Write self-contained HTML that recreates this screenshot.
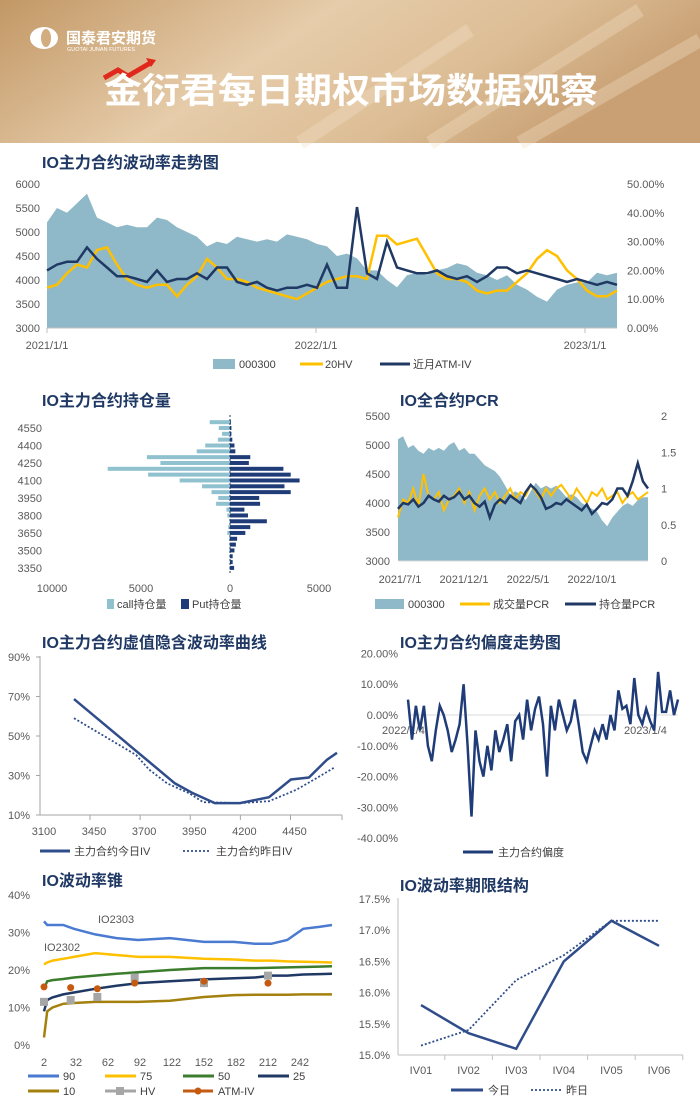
<!DOCTYPE html>
<html><head><meta charset="utf-8"><style>
html,body{margin:0;padding:0;background:#fff;}
svg{display:block;font-family:"Liberation Sans","Noto Sans CJK SC",sans-serif;}
.t{font-size:16px;font-weight:bold;fill:#1f3864;}
.ax{font-size:11px;fill:#595959;}
.lg{font-size:11px;fill:#404040;}
</style></head><body>
<svg id="pg" width="700" height="1102" viewBox="0 0 700 1102" xmlns="http://www.w3.org/2000/svg">
<defs>
<linearGradient id="hg" x1="0" y1="0" x2="1" y2="0.3">
<stop offset="0" stop-color="#c29765"/><stop offset="0.45" stop-color="#e6ccaa"/><stop offset="0.75" stop-color="#dcbd95"/><stop offset="1" stop-color="#c9a074"/>
</linearGradient>
</defs>
<g>
<rect x="0" y="0" width="700" height="143" fill="url(#hg)"/>
<path d="M430 143 L640 10 M520 143 L700 40 M300 143 L470 30" stroke="#f3e2c8" stroke-width="14" opacity="0.35"/>
<g>
<ellipse cx="44" cy="38" rx="14" ry="11" fill="#fff"/>
<ellipse cx="46" cy="38" rx="5" ry="9" fill="#d1ad80"/>
<text x="66" y="43" font-size="15" font-weight="bold" fill="#fff">国泰君安期货</text>
<text x="67" y="51" font-size="5.5" fill="#fff">GUOTAI JUNAN FUTURES</text>
</g>
<path d="M104 78 L118 70 L128 76 L152 62" stroke="#e0281c" stroke-width="5" fill="none"/>
<path d="M146 58 L156 60 L151 67 Z" fill="#e0281c"/>
<text x="104" y="103" font-size="35" font-weight="bold" fill="#fff" textLength="494" lengthAdjust="spacingAndGlyphs">金衍君每日期权市场数据观察</text>
</g>
<text class="t" x="42" y="168">IO主力合约波动率走势图</text>
<text class="t" x="42" y="406">IO主力合约持仓量</text>
<text class="t" x="400" y="406">IO全合约PCR</text>
<text class="t" x="42" y="648">IO主力合约虚值隐含波动率曲线</text>
<text class="t" x="400" y="648">IO主力合约偏度走势图</text>
<text class="t" x="42" y="886">IO波动率锥</text>
<text class="t" x="400" y="891">IO波动率期限结构</text>
<g id="c1"></g>
<g id="c2"></g>
<g id="c3"></g>
<g id="c4"></g>
<g id="c5"></g>
<g id="c6"></g>
<g id="c7"></g>
</svg>
<script>
// ---- chart 1 data ----
const c1Index = [5200,5500,5400,5600,5800,5300,5200,5100,5150,5100,5100,5300,5250,5100,5000,4900,4700,4800,4750,4900,4850,4800,4850,4800,4950,4900,4850,4750,4700,4500,4550,4450,4200,4200,4000,3850,4100,4150,4100,4200,4250,4350,4300,4150,4100,4000,4100,3900,3800,3650,3550,3800,3900,3950,3950,4150,4100,4150];
const c1HV = [14,15,19,22,21,27,28,22,17,15,14,15,15,11,15,18,24,21,17,17,16,14,13,12,11,10,12,14,16,17,18,18,17,32,32,29,30,31,25,19,17,17,16,13,12,13,13,16,19,24,27,25,20,17,13,11,11,13];
const c1IV = [20,22,23,23,28,24,21,18,18,17,16,20,16,17,17,19,17,21,21,16,15,16,14,13,14,14,15,14,22,14,14,42,19,17,30,21,20,19,19,20,18,17,18,16,18,21,21,19,20,19,18,17,16,17,16,15,16,15];
const c1LeftTicks = [3000,3500,4000,4500,5000,5500,6000];
const c1RightTicks = ["0.00%","10.00%","20.00%","30.00%","40.00%","50.00%"];
const c1XLabels = ["2021/1/1","2022/1/1","2023/1/1"];
// ---- chart 2 data ----
const c2Strikes = [4600,4550,4500,4450,4400,4350,4300,4250,4200,4150,4100,4050,4000,3950,3900,3850,3800,3750,3700,3650,3600,3550,3500,3450,3400,3350];
const c2Call = [1140,630,450,680,1390,1870,4670,3910,6870,4600,2830,1570,1040,660,780,200,150,30,100,150,50,30,40,30,20,30];
const c2Put = [50,80,80,130,250,300,1140,1060,3000,3410,3910,3060,3410,1640,1690,810,1010,2070,1140,860,400,330,250,150,150,230];
const c2YLabels = [4550,4400,4250,4100,3950,3800,3650,3500,3350];
const c2XLabels = ["10000","5000","0","5000"];
// ---- chart 3 data ----
const c3Index = [5100,5150,4950,5000,4900,4850,4950,4900,4950,4900,5000,5050,4900,4950,4850,4850,4750,4650,4600,4550,4450,4300,4150,4200,4150,4050,4200,4350,4250,4300,4250,4300,4200,4100,4150,4100,4000,3950,3900,3850,3700,3600,3750,3850,3950,4000,3950,4050,4100,4100];
const c3VolPCR = [0.6,0.85,0.8,1.0,0.75,1.2,0.9,0.85,0.95,0.7,0.85,0.9,1.0,0.8,0.95,0.7,0.9,1.0,0.85,0.95,0.8,0.9,1.0,0.85,0.95,0.9,1.05,0.95,0.85,1.0,0.9,1.0,1.05,0.95,0.85,1.0,0.9,0.8,0.95,0.9,1.0,0.85,0.9,0.95,0.8,0.9,0.95,0.85,0.9,0.95];
const c3OIPCR = [0.72,0.8,0.78,0.85,0.75,0.8,0.9,0.85,0.82,0.9,0.85,0.88,0.95,0.85,0.9,0.8,0.75,0.82,0.6,0.78,0.85,0.8,0.9,0.85,0.8,0.95,1.05,0.98,0.88,0.72,0.75,0.8,0.78,0.85,0.8,0.75,0.7,0.78,0.65,0.72,0.8,0.78,0.85,1.0,1.0,0.9,1.1,1.35,1.1,1.0];
const c3LeftTicks = [3000,3500,4000,4500,5000,5500];
const c3RightTicks = ["0","0.5","1","1.5","2"];
const c3XLabels = ["2021/7/1","2021/12/1","2022/5/1","2022/10/1"];
// ---- chart 4 data ----
const c4TodayK = [3370,3874,3964,4073,4198,4343,4452,4542,4632,4682];
const c4TodayIV = [68.7,26,21,16,16,19,28,29,38,41.5];
const c4YestK = [3370,3680,3745,3835,3945,4015,4198,4343,4478,4568,4668];
const c4YestIV = [59,40.4,33,26,21,16.5,16,17,22.7,28,34];
const c4YTicks = [10,30,50,70,90];
const c4XLabels = [3450,3700,3950,4200,4450];
// ---- chart 5 data ----
const c5Skew = [5,-8,3,-5,3,-10,-15,-5,3,0,-5,-12,-8,-3,10,-10,-33,-5,-15,-20,-10,-18,-5,-12,-8,-3,-15,-2,0,-8,5,-5,2,6,-3,-20,3,-5,5,0,-5,-2,5,-3,-12,-15,-10,-5,-8,-3,-8,0,-5,8,2,3,-3,12,0,-3,2,-2,-5,14,1,1,8,0,5];
const c5YTicks = [20,10,0,-10,-20,-30,-40];
// ---- chart 6 data ----
const c6Days = [2,5,10,20,30,50,70,90,120,152,180,200,215,230,245,260,272];
const c6P90 = [33,32,32,32,31,29.5,28.5,28,28.5,27.5,27.5,27,27,28,31,31.5,32];
const c6P75 = [21.5,22,22.5,23,23.5,24.5,24,23.5,23.5,23,22.8,22.5,22.5,22.3,22.2,22.1,22];
const c6P50 = [15,17,17.3,17.6,18,18.5,19,19.4,20,20.5,20.5,20.5,20.6,20.7,20.8,20.9,21];
const c6P25 = [9,12,12.7,13.5,14,15,15.8,16.5,17,17.5,17.8,18,18.5,18.5,18.8,18.9,19];
const c6P10 = [2,9,10,11,11.2,11.5,11.5,11.5,11.8,12.8,13.3,13.4,13.4,13.4,13.5,13.5,13.5];
const c6MarkDays = [2,27,52,87,152,212];
const c6HV = [11.5,12,12.8,18,16.5,18.5];
const c6ATM = [15.5,15.3,15,16.5,17,16.5];
const c6YTicks = [0,10,20,30,40];
const c6XLabels = [2,32,62,92,122,152,182,212,242];
// ---- chart 7 data ----
const c7Cats = ["IV01","IV02","IV03","IV04","IV05","IV06"];
const c7Today = [15.8,15.35,15.1,16.5,17.15,16.75];
const c7Yest = [15.15,15.4,16.2,16.6,17.15,17.15];
const c7YTicks = [15.0,15.5,16.0,16.5,17.0,17.5];

const NS='http://www.w3.org/2000/svg';
function mk(tag,attrs,parent){const e=document.createElementNS(NS,tag);for(const k in attrs)e.setAttribute(k,attrs[k]);parent.appendChild(e);return e;}
function txt(parent,x,y,s,cls,anchor){const t=mk('text',{x:x,y:y,'class':cls,'text-anchor':anchor||'start'},parent);t.textContent=s;return t;}
function pathOf(pts){return pts.map((p,i)=>(i?'L':'M')+p[0].toFixed(1)+' '+p[1].toFixed(1)).join(' ');}

// ===== chart 1 =====
(function(){
const g=document.getElementById('c1');
const x0=47,x1=617;
const yL=v=>328-(v-3000)*0.048, yR=p=>328-p*2.88;
const xi=(i,n)=>x0+i*(x1-x0)/(n-1);
const ap=c1Index.map((v,i)=>[xi(i,c1Index.length),yL(v)]);
const area=mk('path',{d:pathOf(ap)+` L${x1} 328 L${x0} 328 Z`,fill:'#8fb9c8'},g);


const hv=mk('path',{d:pathOf(c1HV.map((v,i)=>[xi(i,c1HV.length),yR(v)])),fill:'none',stroke:'#ffc000','stroke-width':2.5},g);


const iv=mk('path',{d:pathOf(c1IV.map((v,i)=>[xi(i,c1IV.length),yR(v)])),fill:'none',stroke:'#1f3864','stroke-width':2.5},g);


mk('line',{x1:x0,y1:328,x2:x1,y2:328,stroke:'#bfbfbf'},g);
c1LeftTicks.forEach(v=>txt(g,40,yL(v)+4,String(v),'ax','end'));
c1RightTicks.forEach((s,i)=>txt(g,627,yR(i*10)+4,s,'ax','start'));
c1XLabels.forEach((s,i)=>{const x=x0+i*269;mk('line',{x1:x,y1:328,x2:x,y2:333,stroke:'#bfbfbf'},g);txt(g,x,349,s,'ax','middle');});
mk('rect',{x:213,y:359,width:22,height:10,fill:'#8fb9c8'},g);txt(g,239,368,'000300','lg');
mk('line',{x1:300,y1:364,x2:323,y2:364,stroke:'#ffc000','stroke-width':3},g);txt(g,325,368,'20HV','lg');
mk('line',{x1:380,y1:364,x2:410,y2:364,stroke:'#1f3864','stroke-width':3},g);txt(g,413,368,'近月ATM-IV','lg');
})();

// ===== chart 2 =====
(function(){
const g=document.getElementById('c2');
const cx=230,s=89/5000;
const yS=k=>428+(4550-k)/50*5.83;
c2Strikes.forEach((k,i)=>{
 const y=yS(k);
 const b1=mk('rect',{x:cx-c2Call[i]*s,y:y-2,width:c2Call[i]*s,height:4,fill:'#8fc1cf'},g);
 
 
 const b2=mk('rect',{x:cx,y:y-2,width:c2Put[i]*s,height:4,fill:'#1f3c78'},g);
 
 
});
mk('line',{x1:cx,y1:415,x2:cx,y2:574,stroke:'#1f3864','stroke-dasharray':'2 2'},g);
c2YLabels.forEach(k=>txt(g,42,yS(k)+4,String(k),'ax','end'));
c2XLabels.forEach((s2,i)=>txt(g,52+i*89,592,s2,'ax','middle'));
mk('rect',{x:107,y:599,width:7,height:10,fill:'#8fc1cf'},g);txt(g,117,608,'call持仓量','lg');
mk('rect',{x:181,y:599,width:8,height:10,fill:'#1f3c78'},g);txt(g,192,608,'Put持仓量','lg');
})();

// ===== chart 3 =====
(function(){
const g=document.getElementById('c3');
const x0=398,x1=648;
const yL=v=>561-(v-3000)*0.058, yR=r=>561-r*72.5;
const xi=(i,n)=>x0+i*(x1-x0)/(n-1);
const a=mk('path',{d:pathOf(c3Index.map((v,i)=>[xi(i,c3Index.length),yL(v)]))+` L${x1} 561 L${x0} 561 Z`,fill:'#8fb9c8'},g);


const v=mk('path',{d:pathOf(c3VolPCR.map((r,i)=>[xi(i,c3VolPCR.length),yR(r)])),fill:'none',stroke:'#ffc000','stroke-width':2},g);


const o=mk('path',{d:pathOf(c3OIPCR.map((r,i)=>[xi(i,c3OIPCR.length),yR(r)])),fill:'none',stroke:'#1f3864','stroke-width':2.5},g);


mk('line',{x1:x0,y1:561,x2:x1,y2:561,stroke:'#d9d9d9'},g);
c3LeftTicks.forEach(t=>txt(g,390,yL(t)+4,String(t),'ax','end'));
c3RightTicks.forEach((s,i)=>txt(g,661,yR(i*0.5)+4,s,'ax','start'));
c3XLabels.forEach((s,i)=>txt(g,400+i*64,583,s,'ax','middle'));
mk('rect',{x:375,y:599,width:29,height:10,fill:'#8fb9c8'},g);txt(g,408,608,'000300','lg');
mk('line',{x1:460,y1:604,x2:490,y2:604,stroke:'#ffc000','stroke-width':3},g);txt(g,493,608,'成交量PCR','lg');
mk('line',{x1:565,y1:604,x2:596,y2:604,stroke:'#1f3864','stroke-width':3},g);txt(g,599,608,'持仓量PCR','lg');
})();

// ===== chart 4 =====
(function(){
const g=document.getElementById('c4');
const xK=k=>90+(k-3450)*0.2005, yV=v=>657+(90-v)*1.975;
mk('line',{x1:40,y1:656,x2:40,y2:815,stroke:'#a6a6a6'},g);
mk('line',{x1:40,y1:815,x2:342,y2:815,stroke:'#a6a6a6'},g);
c4YTicks.forEach(t=>{txt(g,30,yV(t)+4,t+'%','ax','end');mk('line',{x1:36,y1:yV(t),x2:40,y2:yV(t),stroke:'#a6a6a6'},g);});
txt(g,44,835,'3100','ax','middle');
c4XLabels.forEach(k=>{mk('line',{x1:xK(k),y1:815,x2:xK(k),y2:820,stroke:'#a6a6a6'},g);txt(g,xK(k)+4,835,String(k),'ax','middle');});
mk('line',{x1:342,y1:815,x2:342,y2:820,stroke:'#a6a6a6'},g);
const yd=mk('path',{d:pathOf(c4YestK.map((k,i)=>[xK(k),yV(c4YestIV[i])])),fill:'none',stroke:'#2f4d8a','stroke-width':1.8,'stroke-dasharray':'2 2'},g);


const td=mk('path',{d:pathOf(c4TodayK.map((k,i)=>[xK(k),yV(c4TodayIV[i])])),fill:'none',stroke:'#2f4d8a','stroke-width':2.5},g);


mk('line',{x1:40,y1:851,x2:70,y2:851,stroke:'#2f4d8a','stroke-width':3},g);txt(g,74,855,'主力合约今日IV','lg');
mk('line',{x1:183,y1:851,x2:211,y2:851,stroke:'#2f4d8a','stroke-width':1.8,'stroke-dasharray':'2 2'},g);txt(g,216,855,'主力合约昨日IV','lg');
})();

// ===== chart 5 =====
(function(){
const g=document.getElementById('c5');
const x0=408,x1=678,yP=p=>715-p*3.08;
mk('line',{x1:x0,y1:715,x2:x1,y2:715,stroke:'#d9d9d9'},g);
c5YTicks.forEach(t=>txt(g,398,yP(t)+4,t.toFixed(2)+'%','ax','end'));
txt(g,382,734,'2022/1/4','ax','start');
txt(g,624,734,'2023/1/4','ax','start');
const l=mk('path',{d:pathOf(c5Skew.map((v,i)=>[x0+i*(x1-x0)/(c5Skew.length-1),yP(v)])),fill:'none',stroke:'#1f3c78','stroke-width':2.5},g);


mk('line',{x1:463,y1:852,x2:493,y2:852,stroke:'#1f3c78','stroke-width':3},g);txt(g,498,856,'主力合约偏度','lg');
})();

// ===== chart 6 =====
(function(){
const g=document.getElementById('c6');
const xD=d=>44+(d-2)*32/30, yV=v=>1045-v*3.75;
c6YTicks.forEach(t=>txt(g,30,yV(t)+4,t+'%','ax','end'));
c6XLabels.forEach(d=>txt(g,xD(d),1066,String(d),'ax','middle'));
const series=[[c6P90,'#4a7bd0','cone-p90-line'],[c6P75,'#ffc000','cone-p75-line'],[c6P50,'#3b7d2c','cone-p50-line'],[c6P25,'#1f3864','cone-p25-line'],[c6P10,'#a4800e','cone-p10-line']];
series.forEach(s=>{
 const p=mk('path',{d:pathOf(s[0].map((v,i)=>[xD(c6Days[i]),yV(v)])),fill:'none',stroke:s[1],'stroke-width':2.5},g);
 
 
});
c6MarkDays.forEach((d,i)=>{
 const r=mk('rect',{x:xD(d)-4,y:yV(c6HV[i])-4,width:8,height:8,fill:'#a6a6a6'},g);
 
 
 const c=mk('circle',{cx:xD(d),cy:yV(c6ATM[i]),r:3.5,fill:'#c55a11'},g);
 
 
});
txt(g,98,923,'IO2303','ax','start').setAttribute('font-size','13');
txt(g,44,951,'IO2302','ax','start').setAttribute('font-size','13');
const lg=[[28,1076,'#4a7bd0','90'],[105,1076,'#ffc000','75'],[183,1076,'#3b7d2c','50'],[258,1076,'#1f3864','25'],[28,1091,'#a4800e','10']];
lg.forEach(e=>{mk('line',{x1:e[0],y1:e[1],x2:e[0]+31,y2:e[1],stroke:e[2],'stroke-width':3},g);const t=txt(g,e[0]+35,e[1]+4,e[3],'lg');t.setAttribute('font-size','9');});
mk('line',{x1:105,y1:1091,x2:136,y2:1091,stroke:'#a6a6a6','stroke-width':3},g);mk('rect',{x:116,y:1087,width:8,height:8,fill:'#a6a6a6'},g);txt(g,140,1095,'HV','lg').setAttribute('font-size','9');
mk('line',{x1:183,y1:1091,x2:213,y2:1091,stroke:'#c55a11','stroke-width':3},g);mk('circle',{cx:198,cy:1091,r:3.5,fill:'#c55a11'},g);txt(g,218,1095,'ATM-IV','lg').setAttribute('font-size','9');
})();

// ===== chart 7 =====
(function(){
const g=document.getElementById('c7');
const xC=i=>421+i*47.6, yV=v=>1055-(v-15)*62.4;
mk('line',{x1:398,y1:898,x2:398,y2:1055,stroke:'#bfbfbf'},g);
mk('line',{x1:398,y1:1055,x2:683,y2:1055,stroke:'#bfbfbf'},g);
c7YTicks.forEach(t=>txt(g,390,yV(t)+4,t.toFixed(1)+'%','ax','end'));
c7Cats.forEach((c,i)=>{mk('line',{x1:xC(i)+23.8,y1:1055,x2:xC(i)+23.8,y2:1060,stroke:'#bfbfbf'},g);txt(g,xC(i),1074,c,'ax','middle');});
const y=mk('path',{d:pathOf(c7Yest.map((v,i)=>[xC(i),yV(v)])),fill:'none',stroke:'#2f4d8a','stroke-width':1.8,'stroke-dasharray':'2 2'},g);


const t=mk('path',{d:pathOf(c7Today.map((v,i)=>[xC(i),yV(v)])),fill:'none',stroke:'#2f4d8a','stroke-width':2.5},g);


mk('line',{x1:451,y1:1090,x2:483,y2:1090,stroke:'#2f4d8a','stroke-width':3},g);txt(g,488,1094,'今日','lg');
mk('line',{x1:531,y1:1090,x2:561,y2:1090,stroke:'#2f4d8a','stroke-width':1.8,'stroke-dasharray':'2 2'},g);txt(g,566,1094,'昨日','lg');
})();
</script>
</body></html>
